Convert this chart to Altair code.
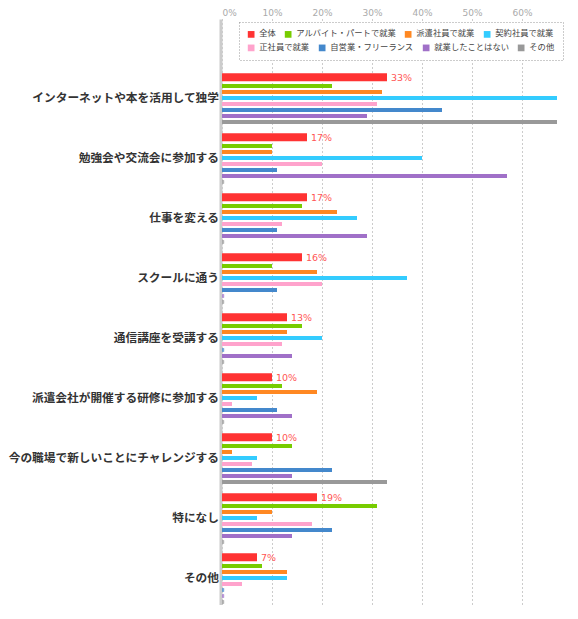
import altair as alt
import pandas as pd

categories = [
    "インターネットや本を活用して独学",
    "勉強会や交流会に参加する",
    "仕事を変える",
    "スクールに通う",
    "通信講座を受講する",
    "派遣会社が開催する研修に参加する",
    "今の職場で新しいことにチャレンジする",
    "特になし",
    "その他",
]
series_names = [
    "全体",
    "アルバイト・パートで就業",
    "派遣社員で就業",
    "契約社員で就業",
    "正社員で就業",
    "自営業・フリーランス",
    "就業したことはない",
    "その他",
]
series_colors = ["#ff3333", "#77cc00", "#ff8822", "#33ccff", "#ffa3cc", "#4488cc", "#a070c8", "#999999"]

v_all = [33, 17, 17, 16, 13, 10, 10, 19, 7]
v_part = [22, 10, 16, 10, 16, 12, 14, 31, 8]
v_haken = [32, 10, 23, 19, 13, 19, 2, 10, 13]
v_keiyaku = [67, 40, 27, 37, 20, 7, 7, 7, 13]
v_seishain = [31, 20, 12, 20, 12, 2, 6, 18, 4]
v_jiei = [44, 11, 11, 11, 0, 11, 22, 22, 0]
v_never = [29, 57, 29, 0, 14, 14, 14, 14, 0]
v_other = [67, 0, 0, 0, 0, 0, 33, 0, 0]

tick_values = [0, 10, 20, 30, 40, 50, 60]

all_values = [v_all, v_part, v_haken, v_keiyaku, v_seishain, v_jiei, v_never, v_other]
rows = []
for s, vals in zip(series_names, all_values):
    for c, v in zip(categories, vals):
        rows.append({"category": c, "series": s, "value": v})
df = pd.DataFrame(rows)
df["label"] = df["value"].astype(str) + "%"

JP = "Noto Sans CJK JP"
row1 = series_names[:4]
row2 = series_names[4:]
small_order = series_names[1:]

y_enc = alt.Y(
    "category:N",
    sort=categories,
    scale=alt.Scale(domain=categories, paddingInner=0.3, paddingOuter=0.533, align=1),
    axis=alt.Axis(
        title=None, ticks=False, domain=True, domainColor="#cccccc", domainWidth=3,
        offset=1.5, labelPadding=2, labelFont=JP, labelFontSize=11.7,
        labelFontWeight="bold", labelColor="#333333", labelOffset=-6, labelLimit=300,
        grid=False,
    ),
)
x_enc = alt.X(
    "value:Q",
    scale=alt.Scale(domain=[0, 68], nice=False),
    axis=alt.Axis(
        orient="top", title=None, values=tick_values, labelExpr="datum.value + '%'",
        ticks=False, domain=False, labelColor="#aaaaaa", labelFont="DejaVu Sans",
        labelFontSize=9, labelPadding=2, grid=True, gridColor="#999999",
        gridDash=[1, 3], gridWidth=1,
    ),
)
legend_common = dict(
    orient="none", legendX=17, direction="horizontal",
    symbolType="square", symbolSize=45, symbolStrokeWidth=0, symbolOpacity=1,
    labelFont=JP, labelFontSize=8.3, labelColor="#444444", labelOffset=4,
    columnPadding=8, padding=8,
)
color_enc = alt.Color(
    "series:N",
    scale=alt.Scale(domain=row1, range=series_colors[:4]),
    legend=alt.Legend(title=None, legendY=3, zindex=2, **legend_common),
)
fill_enc = alt.Fill(
    "series:N",
    scale=alt.Scale(domain=row2, range=series_colors[4:]),
    legend=alt.Legend(
        title=" ", titleFontSize=9, titlePadding=4.5, legendY=3, zindex=1,
        fillColor="#ffffff", strokeColor="#999999", **legend_common,
    ),
)
yoff_scale = alt.Scale(domain=small_order, paddingInner=0, paddingOuter=0)
yoff_enc = alt.YOffset("series:N", sort=small_order, scale=yoff_scale)

base = alt.Chart(df)

red = base.transform_filter(alt.datum.series == "全体").mark_bar(height=8, yOffset=-26.7).encode(
    y=y_enc, x=x_enc, color=color_enc
)
red_text = base.transform_filter(alt.datum.series == "全体").mark_text(
    align="left", baseline="middle", dx=4, yOffset=-26.2, color="#ff5555",
    font="DejaVu Sans", fontSize=9.5,
).encode(y=y_enc, x=x_enc, text="label:N")

small_a = base.transform_filter(
    alt.FieldOneOfPredicate(field="series", oneOf=row1[1:])
).transform_filter(alt.datum.value > 0).mark_bar(height=4).encode(
    y=y_enc, x=x_enc, color=color_enc, yOffset=yoff_enc,
)
small_b = base.transform_filter(
    alt.FieldOneOfPredicate(field="series", oneOf=row2)
).transform_filter(alt.datum.value > 0).mark_bar(height=4).encode(
    y=y_enc, x=x_enc, fill=fill_enc, yOffset=yoff_enc,
)
zeros_outer = base.transform_filter(
    alt.FieldOneOfPredicate(field="series", oneOf=row2)
).transform_filter(alt.datum.value == 0).mark_point(
    shape="M0,-1H1.3V1H0Z", filled=True, size=10.9, strokeWidth=0, opacity=1
).encode(y=y_enc, x=x_enc, fill=fill_enc, yOffset=yoff_enc)
zeros_inner = base.transform_filter(
    alt.FieldOneOfPredicate(field="series", oneOf=row2)
).transform_filter(alt.datum.value == 0).mark_point(
    shape="M0.45,-0.45H0.85V0.45H0.45Z", filled=True, size=10.9, strokeWidth=0,
    opacity=1, fill="#ffffff",
).encode(y=y_enc, x=x_enc, yOffset=yoff_enc)

chart = alt.layer(red, small_a, small_b, zeros_outer, zeros_inner, red_text).properties(
    width=340, height=586, padding={"left": 0, "top": 0, "right": 0, "bottom": 0}
).configure_view(stroke=None).configure_legend(strokeDash=[1, 2], strokeWidth=1)

chart.save("out.html", embed_options={"renderer": "svg", "actions": False})
